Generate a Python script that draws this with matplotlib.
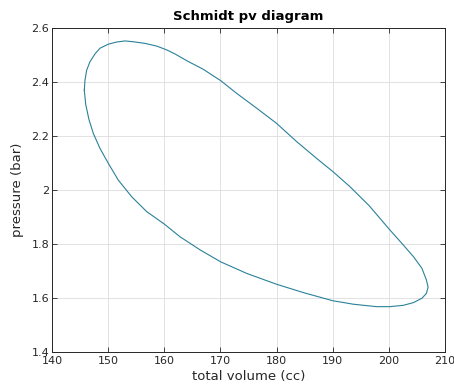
import matplotlib
matplotlib.use("Agg")
import matplotlib.pyplot as plt

# Schmidt pv loop (volume in cc, pressure in bar),
# traced clockwise from the leftmost point
volume = [145.76, 145.88, 146.18, 146.77, 147.66, 148.55, 150.03, 151.52, 153.0, 154.48,
          156.57, 158.65, 160.43, 161.9, 164.0, 166.95, 170.05, 172.9, 176.46, 180.0,
          183.6, 187.15, 190.05, 193.1, 196.5, 200.2, 202.6, 204.4, 205.9, 206.7,
          207.0, 206.7, 205.9, 204.4, 202.6, 200.2, 197.8, 193.7, 190.0, 184.8,
          180.0, 174.7, 170.05, 166.4, 162.8, 160.0, 156.87, 154.2, 151.8, 150.03,
          148.55, 147.36, 146.6, 146.0, 145.76]
pressure = [2.370, 2.407, 2.444, 2.475, 2.504, 2.525, 2.540, 2.548, 2.552, 2.549,
            2.543, 2.533, 2.519, 2.504, 2.479, 2.447, 2.405, 2.358, 2.303, 2.247,
            2.179, 2.117, 2.068, 2.012, 1.942, 1.852, 1.796, 1.753, 1.710, 1.667,
            1.640, 1.617, 1.599, 1.583, 1.573, 1.568, 1.568, 1.577, 1.590, 1.620,
            1.651, 1.691, 1.734, 1.778, 1.827, 1.874, 1.920, 1.975, 2.037, 2.099,
            2.154, 2.210, 2.260, 2.318, 2.370]

xticks = [140, 150, 160, 170, 180, 190, 200, 210]
yticks = [1.4, 1.6, 1.8, 2.0, 2.2, 2.4, 2.6]
ytick_labels = ["1.4", "1.6", "1.8", "2", "2.2", "2.4", "2.6"]

plt.rcParams.update({"font.family": "DejaVu Sans", "font.size": 8})
fig = plt.figure(figsize=(4.54, 3.92), dpi=100)
ax = fig.add_axes([0.1145, 0.102, 0.8655, 0.8266])

ax.plot(volume, pressure, color="#2a8199", lw=0.8)

ax.set_xlim(140, 210)
ax.set_ylim(1.4, 2.6)
ax.set_xticks(xticks)
ax.set_yticks(yticks)
ax.set_yticklabels(ytick_labels)
ax.grid(True, color="#dddddd", lw=0.6)
ax.set_axisbelow(True)
ax.tick_params(direction="in", top=True, right=True, length=3.5, width=0.6,
               colors="#262626", labelsize=8)
ax.tick_params(axis="x", pad=3)
ax.tick_params(axis="y", pad=2)
for s in ax.spines.values():
    s.set_color("#262626")
    s.set_linewidth(0.7)

ax.set_xlabel("total volume (cc)", fontsize=9.5, color="#262626", labelpad=3)
ax.set_ylabel("pressure (bar)", fontsize=9.5, color="#262626", labelpad=5)
ax.set_title("Schmidt pv diagram", fontsize=9.5, fontweight="bold", pad=6)

fig.savefig("out.png", dpi=100)
